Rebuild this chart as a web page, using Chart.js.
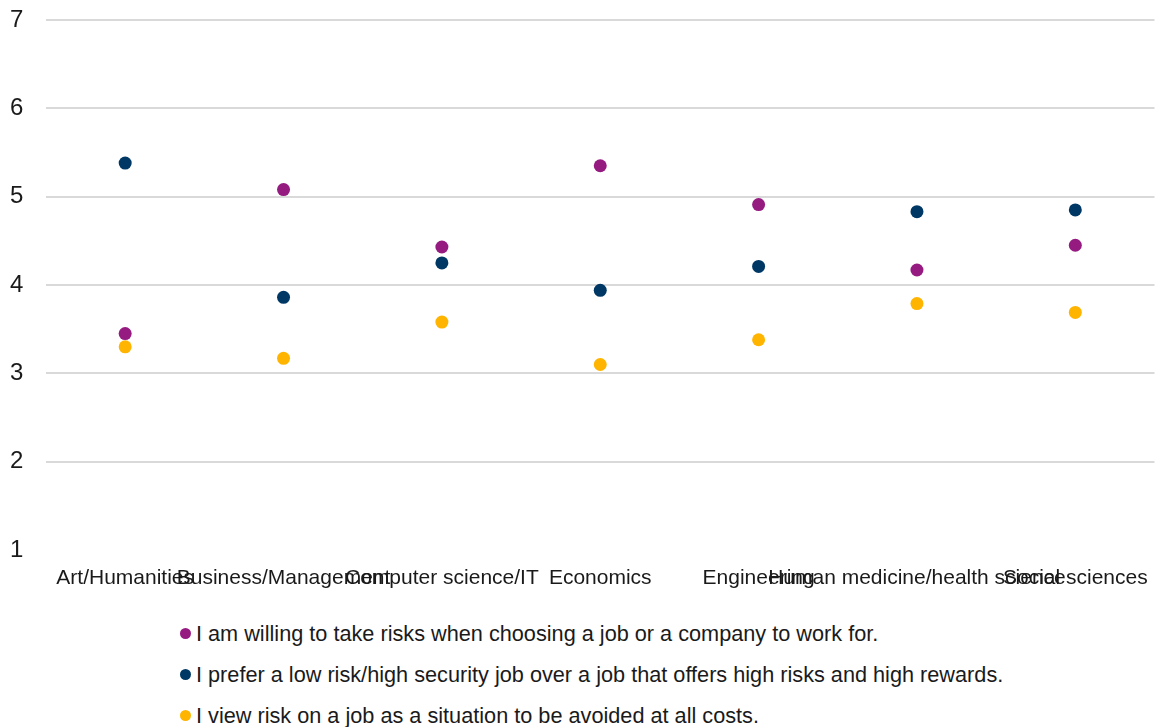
<!DOCTYPE html>
<html>
<head>
<meta charset="utf-8">
<script src="https://cdn.jsdelivr.net/npm/chart.js@4/dist/chart.umd.min.js"></script>
<style>
  html, body { margin: 0; padding: 0; background: #fff; overflow: hidden; }
  #wrap { position: relative; width: 1158px; height: 727px; overflow: hidden; }
  #chart-box { position: absolute; left: 0; top: 0; width: 1161px; height: 600px; }
  #legend { position: absolute; left: 180px; top: 620px; font-family: "Liberation Sans", Arial, sans-serif; font-size: 21.7px; color: #1a1a1a; }
  #legend div { height: 41px; line-height: 28px; white-space: nowrap; }
  #legend span.dot { display: inline-block; width: 11px; height: 11px; border-radius: 50%; margin-right: 5px; vertical-align: 2px; }
</style>
</head>
<body>
<div id="wrap">
  <div id="chart-box"><canvas id="myChart"></canvas></div>
  <div id="legend"></div>
</div>
<script>
const categories = ['Art/Humanities', 'Business/Management', 'Computer science/IT', 'Economics', 'Engineering', 'Human medicine/health science', 'Social sciences'];
const willingRisk = [3.45, 5.08, 4.43, 5.35, 4.91, 4.17, 4.45];
const preferSecurity = [5.38, 3.86, 4.25, 3.94, 4.21, 4.83, 4.85];
const avoidRisk = [3.30, 3.17, 3.58, 3.10, 3.38, 3.79, 3.69];
const yTicks = [1, 2, 3, 4, 5, 6, 7];

const seriesNames = [
    'I am willing to take risks when choosing a job or a company to work for.',
    'I prefer a low risk/high security job over a job that offers high risks and high rewards.',
    'I view risk on a job as a situation to be avoided at all costs.'
];
const colors = ['#951b81', '#003865', '#ffb400'];
const values = [willingRisk, preferSecurity, avoidRisk];

const font = "'Liberation Sans', Arial, sans-serif";

const datasets = values.map((v, i) => ({
    label: seriesNames[i],
    data: v,
    showLine: false,
    pointRadius: 6.5,
    pointHoverRadius: 6.5,
    pointBorderWidth: 0,
    backgroundColor: colors[i],
    borderColor: colors[i]
}));

new Chart(document.getElementById('myChart'), {
    type: 'line',
    data: { labels: categories, datasets: datasets },
    options: {
        responsive: true,
        maintainAspectRatio: false,
        animation: false,
        layout: { padding: { left: 10, right: 0, top: 20, bottom: 0 } },
        plugins: { legend: { display: false }, tooltip: { enabled: false } },
        scales: {
            x: {
                offset: true,
                grid: { display: false },
                border: { display: false },
                afterFit: axis => { axis.height = 50; axis.paddingLeft = 0; axis.paddingRight = 0; },
                ticks: {
                    autoSkip: false, maxRotation: 0, minRotation: 0,
                    color: '#1a1a1a', font: { family: font, size: 21 }, padding: 8
                }
            },
            y: {
                min: 1, max: 7,
                afterBuildTicks: axis => { axis.ticks = yTicks.map(v => ({ value: v })); },
                afterFit: axis => { axis.width = 36; axis.paddingTop = 0; axis.paddingBottom = 0; },
                grid: {
                    color: ctx => ctx.tick && ctx.tick.value === 1 ? 'rgba(0,0,0,0)' : '#d9d9d9',
                    lineWidth: 2,
                    drawTicks: false
                },
                border: { display: false },
                ticks: {
                    color: '#1a1a1a', font: { family: font, size: 24 }, padding: 24,
                    crossAlign: 'far'
                }
            }
        }
    }
});

// legend built from the same series arrays
const legend = document.getElementById('legend');
seriesNames.forEach((name, i) => {
    const row = document.createElement('div');
    row.innerHTML = `<span class="dot" style="background:${colors[i]}"></span>${name}`;
    legend.appendChild(row);
});
</script>
</body>
</html>
